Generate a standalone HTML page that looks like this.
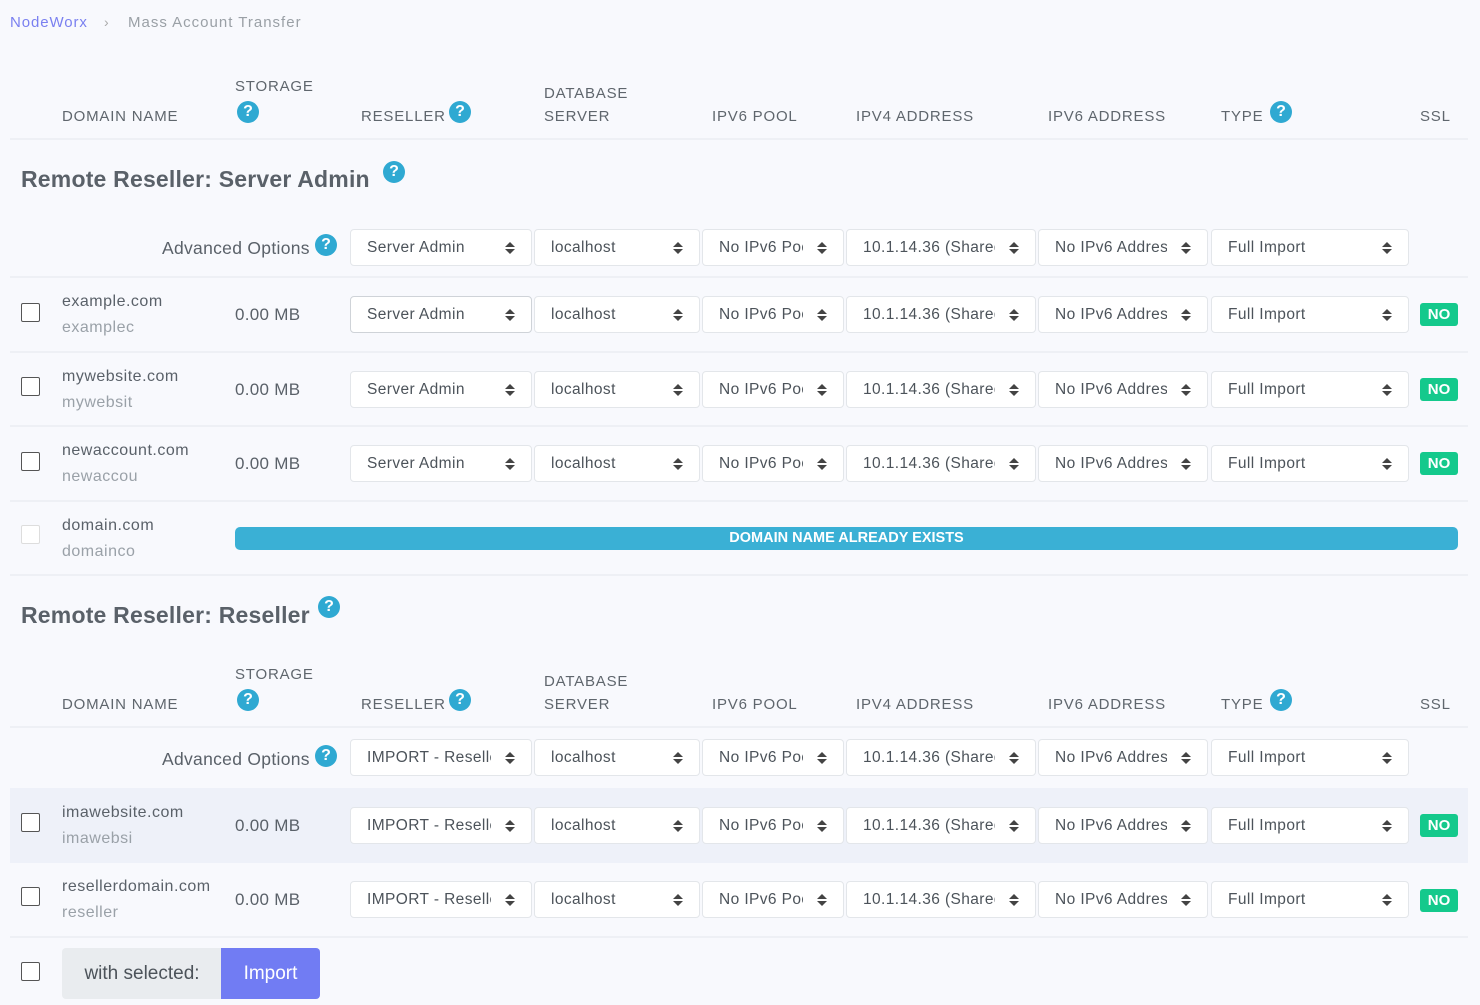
<!DOCTYPE html>
<html><head><meta charset="utf-8"><style>
*{box-sizing:border-box;margin:0;padding:0}
body{width:1480px;height:1005px;background:#f8f9fd;font-family:"Liberation Sans",sans-serif;color:#5a6169;position:relative;overflow:hidden}
.a{position:absolute;white-space:nowrap}
.h{font-size:15px;letter-spacing:0.8px;color:#5f666d;line-height:18px}
.q{position:absolute;width:22px;height:22px;border-radius:50%;background:#2fa9d2;color:#fff;font-weight:bold;font-size:16px;line-height:22px;text-align:center}
.hr{position:absolute;left:10px;width:1458px;height:2px;background:#eef0f5}
.s{position:absolute;height:37px;background:#fff;border:1px solid #e3e6ea;border-radius:4px;font-size:15.5px;letter-spacing:0.4px;color:#4c535a;line-height:35px;padding-left:16px;padding-right:40px;white-space:nowrap}
.s span{display:block;overflow:hidden;white-space:nowrap}
.s i{position:absolute;right:16px;top:12px;width:10px;height:13px}
.s i:before{content:"";position:absolute;left:0;top:0;border-left:5px solid transparent;border-right:5px solid transparent;border-bottom:5px solid #444}
.s i:after{content:"";position:absolute;left:0;top:7px;border-left:5px solid transparent;border-right:5px solid transparent;border-top:5px solid #444}
.cb{position:absolute;left:21px;width:19px;height:19px;border:1.5px solid #555;background:#fff;border-radius:2px}
.dn{position:absolute;left:62px;font-size:16px;letter-spacing:0.5px;color:#5a6169;white-space:nowrap}
.du{position:absolute;left:62px;font-size:16px;letter-spacing:0.5px;color:#9aa1a8}
.st{position:absolute;left:235px;font-size:17px;letter-spacing:0.3px;color:#5a6169}
.no{position:absolute;left:1420px;width:38px;height:23px;background:#14c98c;color:#fff;font-weight:bold;font-size:15px;line-height:23px;text-align:center;border-radius:3px}
.t{font-size:23px;color:#5a6169;font-weight:bold;letter-spacing:0.2px}
.ao{font-size:17.5px;letter-spacing:0.3px;color:#5a6169}
</style></head><body>
<div class="a" style="left:10px;top:14px;font-size:15px;letter-spacing:0.9px;color:#7a80f0">NodeWorx</div>
<div class="a" style="left:104px;top:14px;font-size:14px;color:#aaa">›</div>
<div class="a" style="left:128px;top:14px;font-size:15px;color:#9aa0a6;letter-spacing:1px">Mass Account Transfer</div>

<div class="a h" style="left:62px;top:108px">DOMAIN NAME</div>
<div class="a h" style="left:235px;top:78px">STORAGE</div><div class="q" style="left:237px;top:101px">?</div>
<div class="a h" style="left:361px;top:108px">RESELLER</div><div class="q" style="left:449px;top:101px">?</div>
<div class="a h" style="left:544px;top:85px">DATABASE</div><div class="a h" style="left:544px;top:108px">SERVER</div>
<div class="a h" style="left:712px;top:108px">IPV6 POOL</div>
<div class="a h" style="left:856px;top:108px">IPV4 ADDRESS</div>
<div class="a h" style="left:1048px;top:108px">IPV6 ADDRESS</div>
<div class="a h" style="left:1221px;top:108px">TYPE</div><div class="q" style="left:1270px;top:101px">?</div>
<div class="a h" style="left:1420px;top:108px">SSL</div>
<div class="hr" style="top:138px"></div>

<div class="a t" style="left:21px;top:166px">Remote Reseller: Server Admin</div><div class="q" style="left:383px;top:161px">?</div>

<div class="a ao" style="left:162px;top:238px">Advanced Options</div><div class="q" style="left:315px;top:234px">?</div>
<div class="s" style="left:350px;top:229px;width:182px"><span>Server Admin</span><i></i></div>
<div class="s" style="left:534px;top:229px;width:166px"><span>localhost</span><i></i></div>
<div class="s" style="left:702px;top:229px;width:142px"><span>No IPv6 Pool</span><i></i></div>
<div class="s" style="left:846px;top:229px;width:190px"><span>10.1.14.36 (Shared)</span><i></i></div>
<div class="s" style="left:1038px;top:229px;width:170px"><span>No IPv6 Address</span><i></i></div>
<div class="s" style="left:1211px;top:229px;width:198px"><span>Full Import</span><i></i></div>
<div class="hr" style="top:276px"></div>

<div class="cb" style="top:303px"></div>
<div class="dn" style="top:293px">example.com</div><div class="du" style="top:319px">examplec</div>
<div class="st" style="top:305px">0.00 MB</div>
<div class="s" style="left:350px;top:296px;width:182px;border-color:#cfd3d8"><span>Server Admin</span><i></i></div>
<div class="s" style="left:534px;top:296px;width:166px"><span>localhost</span><i></i></div>
<div class="s" style="left:702px;top:296px;width:142px"><span>No IPv6 Pool</span><i></i></div>
<div class="s" style="left:846px;top:296px;width:190px"><span>10.1.14.36 (Shared)</span><i></i></div>
<div class="s" style="left:1038px;top:296px;width:170px"><span>No IPv6 Address</span><i></i></div>
<div class="s" style="left:1211px;top:296px;width:198px"><span>Full Import</span><i></i></div>
<div class="no" style="top:303px">NO</div>
<div class="hr" style="top:351px"></div>

<div class="cb" style="top:377px"></div>
<div class="dn" style="top:368px">mywebsite.com</div><div class="du" style="top:394px">mywebsit</div>
<div class="st" style="top:380px">0.00 MB</div>
<div class="s" style="left:350px;top:371px;width:182px"><span>Server Admin</span><i></i></div>
<div class="s" style="left:534px;top:371px;width:166px"><span>localhost</span><i></i></div>
<div class="s" style="left:702px;top:371px;width:142px"><span>No IPv6 Pool</span><i></i></div>
<div class="s" style="left:846px;top:371px;width:190px"><span>10.1.14.36 (Shared)</span><i></i></div>
<div class="s" style="left:1038px;top:371px;width:170px"><span>No IPv6 Address</span><i></i></div>
<div class="s" style="left:1211px;top:371px;width:198px"><span>Full Import</span><i></i></div>
<div class="no" style="top:378px">NO</div>
<div class="hr" style="top:425px"></div>

<div class="cb" style="top:452px"></div>
<div class="dn" style="top:442px">newaccount.com</div><div class="du" style="top:468px">newaccou</div>
<div class="st" style="top:454px">0.00 MB</div>
<div class="s" style="left:350px;top:445px;width:182px"><span>Server Admin</span><i></i></div>
<div class="s" style="left:534px;top:445px;width:166px"><span>localhost</span><i></i></div>
<div class="s" style="left:702px;top:445px;width:142px"><span>No IPv6 Pool</span><i></i></div>
<div class="s" style="left:846px;top:445px;width:190px"><span>10.1.14.36 (Shared)</span><i></i></div>
<div class="s" style="left:1038px;top:445px;width:170px"><span>No IPv6 Address</span><i></i></div>
<div class="s" style="left:1211px;top:445px;width:198px"><span>Full Import</span><i></i></div>
<div class="no" style="top:452px">NO</div>
<div class="hr" style="top:500px"></div>

<div class="cb" style="top:525px;border-color:#ddd"></div>
<div class="dn" style="top:517px">domain.com</div><div class="du" style="top:543px">domainco</div>
<div class="a" style="left:235px;top:527px;width:1223px;height:23px;background:#3ab0d5;border-radius:5px;color:#fff;font-weight:bold;font-size:14.5px;line-height:23px;text-align:center">DOMAIN NAME ALREADY EXISTS</div>
<div class="hr" style="top:574px"></div>

<div class="a t" style="left:21px;top:602px">Remote Reseller: Reseller</div><div class="q" style="left:318px;top:596px">?</div>

<div class="a h" style="left:62px;top:696px">DOMAIN NAME</div>
<div class="a h" style="left:235px;top:666px">STORAGE</div><div class="q" style="left:237px;top:689px">?</div>
<div class="a h" style="left:361px;top:696px">RESELLER</div><div class="q" style="left:449px;top:689px">?</div>
<div class="a h" style="left:544px;top:673px">DATABASE</div><div class="a h" style="left:544px;top:696px">SERVER</div>
<div class="a h" style="left:712px;top:696px">IPV6 POOL</div>
<div class="a h" style="left:856px;top:696px">IPV4 ADDRESS</div>
<div class="a h" style="left:1048px;top:696px">IPV6 ADDRESS</div>
<div class="a h" style="left:1221px;top:696px">TYPE</div><div class="q" style="left:1270px;top:689px">?</div>
<div class="a h" style="left:1420px;top:696px">SSL</div>
<div class="hr" style="top:726px"></div>

<div class="a ao" style="left:162px;top:749px">Advanced Options</div><div class="q" style="left:315px;top:745px">?</div>
<div class="s" style="left:350px;top:739px;width:182px"><span>IMPORT - Reseller</span><i></i></div>
<div class="s" style="left:534px;top:739px;width:166px"><span>localhost</span><i></i></div>
<div class="s" style="left:702px;top:739px;width:142px"><span>No IPv6 Pool</span><i></i></div>
<div class="s" style="left:846px;top:739px;width:190px"><span>10.1.14.36 (Shared)</span><i></i></div>
<div class="s" style="left:1038px;top:739px;width:170px"><span>No IPv6 Address</span><i></i></div>
<div class="s" style="left:1211px;top:739px;width:198px"><span>Full Import</span><i></i></div>

<div class="a" style="left:10px;top:788px;width:1458px;height:75px;background:#eef1f9"></div>
<div class="cb" style="top:813px"></div>
<div class="dn" style="top:804px">imawebsite.com</div><div class="du" style="top:830px">imawebsi</div>
<div class="st" style="top:816px">0.00 MB</div>
<div class="s" style="left:350px;top:807px;width:182px"><span>IMPORT - Reseller</span><i></i></div>
<div class="s" style="left:534px;top:807px;width:166px"><span>localhost</span><i></i></div>
<div class="s" style="left:702px;top:807px;width:142px"><span>No IPv6 Pool</span><i></i></div>
<div class="s" style="left:846px;top:807px;width:190px"><span>10.1.14.36 (Shared)</span><i></i></div>
<div class="s" style="left:1038px;top:807px;width:170px"><span>No IPv6 Address</span><i></i></div>
<div class="s" style="left:1211px;top:807px;width:198px"><span>Full Import</span><i></i></div>
<div class="no" style="top:814px">NO</div>

<div class="cb" style="top:887px"></div>
<div class="dn" style="top:878px">resellerdomain.com</div><div class="du" style="top:904px">reseller</div>
<div class="st" style="top:890px">0.00 MB</div>
<div class="s" style="left:350px;top:881px;width:182px"><span>IMPORT - Reseller</span><i></i></div>
<div class="s" style="left:534px;top:881px;width:166px"><span>localhost</span><i></i></div>
<div class="s" style="left:702px;top:881px;width:142px"><span>No IPv6 Pool</span><i></i></div>
<div class="s" style="left:846px;top:881px;width:190px"><span>10.1.14.36 (Shared)</span><i></i></div>
<div class="s" style="left:1038px;top:881px;width:170px"><span>No IPv6 Address</span><i></i></div>
<div class="s" style="left:1211px;top:881px;width:198px"><span>Full Import</span><i></i></div>
<div class="no" style="top:889px">NO</div>
<div class="hr" style="top:936px"></div>

<div class="cb" style="top:962px"></div>
<div class="a" style="left:62px;top:948px;width:160px;height:51px;background:#e9ecef;border-radius:4px 0 0 4px;font-size:19px;line-height:51px;text-align:center;color:#4c535a">with selected:</div>
<div class="a" style="left:221px;top:948px;width:99px;height:51px;background:#717cf3;border-radius:0 4px 4px 0;font-size:19px;line-height:51px;text-align:center;color:#fff">Import</div>
</body></html>
